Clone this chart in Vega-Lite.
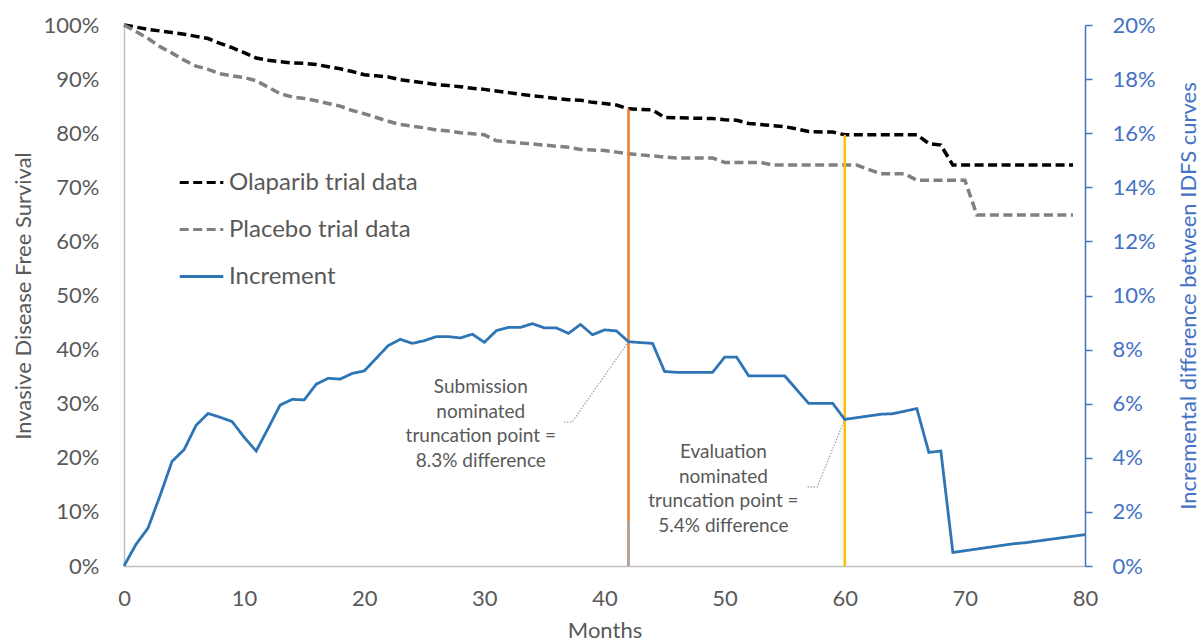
{
  "$schema": "https://vega.github.io/schema/vega-lite/v6.json",
  "autosize": "none",
  "width": 961,
  "height": 541,
  "padding": {"left": 124, "top": 25, "right": 119, "bottom": 77},
  "config": {
    "font": "Lato",
    "view": {"stroke": null},
    "axis": {"grid": false, "labelColor": "#595959", "titleColor": "#595959", "titleFontWeight": "normal", "labelFontSize": 22, "titleFontSize": 22, "domainColor": "#BFBFBF", "domainWidth": 1.5}
  },
  "datasets": {
    "curves": [
      {"month": 0, "value": 100, "series": "Olaparib trial data"},
      {"month": 1, "value": 99.6, "series": "Olaparib trial data"},
      {"month": 2, "value": 99.2, "series": "Olaparib trial data"},
      {"month": 3, "value": 98.9, "series": "Olaparib trial data"},
      {"month": 4, "value": 98.6, "series": "Olaparib trial data"},
      {"month": 5, "value": 98.3, "series": "Olaparib trial data"},
      {"month": 6, "value": 97.9, "series": "Olaparib trial data"},
      {"month": 7, "value": 97.5, "series": "Olaparib trial data"},
      {"month": 8, "value": 96.6, "series": "Olaparib trial data"},
      {"month": 9, "value": 95.8, "series": "Olaparib trial data"},
      {"month": 10, "value": 94.9, "series": "Olaparib trial data"},
      {"month": 11, "value": 93.9, "series": "Olaparib trial data"},
      {"month": 12, "value": 93.5, "series": "Olaparib trial data"},
      {"month": 13, "value": 93.2, "series": "Olaparib trial data"},
      {"month": 14, "value": 93.0, "series": "Olaparib trial data"},
      {"month": 15, "value": 92.9, "series": "Olaparib trial data"},
      {"month": 16, "value": 92.7, "series": "Olaparib trial data"},
      {"month": 17, "value": 92.3, "series": "Olaparib trial data"},
      {"month": 18, "value": 91.9, "series": "Olaparib trial data"},
      {"month": 19, "value": 91.4, "series": "Olaparib trial data"},
      {"month": 20, "value": 90.8, "series": "Olaparib trial data"},
      {"month": 21, "value": 90.6, "series": "Olaparib trial data"},
      {"month": 22, "value": 90.4, "series": "Olaparib trial data"},
      {"month": 23, "value": 89.9, "series": "Olaparib trial data"},
      {"month": 24, "value": 89.6, "series": "Olaparib trial data"},
      {"month": 25, "value": 89.3, "series": "Olaparib trial data"},
      {"month": 26, "value": 89.0, "series": "Olaparib trial data"},
      {"month": 27, "value": 88.8, "series": "Olaparib trial data"},
      {"month": 28, "value": 88.6, "series": "Olaparib trial data"},
      {"month": 29, "value": 88.3, "series": "Olaparib trial data"},
      {"month": 30, "value": 88.1, "series": "Olaparib trial data"},
      {"month": 31, "value": 87.8, "series": "Olaparib trial data"},
      {"month": 32, "value": 87.5, "series": "Olaparib trial data"},
      {"month": 33, "value": 87.2, "series": "Olaparib trial data"},
      {"month": 34, "value": 86.9, "series": "Olaparib trial data"},
      {"month": 35, "value": 86.7, "series": "Olaparib trial data"},
      {"month": 36, "value": 86.4, "series": "Olaparib trial data"},
      {"month": 37, "value": 86.2, "series": "Olaparib trial data"},
      {"month": 38, "value": 86.1, "series": "Olaparib trial data"},
      {"month": 39, "value": 85.7, "series": "Olaparib trial data"},
      {"month": 40, "value": 85.5, "series": "Olaparib trial data"},
      {"month": 41, "value": 85.2, "series": "Olaparib trial data"},
      {"month": 42, "value": 84.5, "series": "Olaparib trial data"},
      {"month": 43, "value": 84.4, "series": "Olaparib trial data"},
      {"month": 44, "value": 84.3, "series": "Olaparib trial data"},
      {"month": 45, "value": 82.9, "series": "Olaparib trial data"},
      {"month": 47, "value": 82.8, "series": "Olaparib trial data"},
      {"month": 49, "value": 82.7, "series": "Olaparib trial data"},
      {"month": 50, "value": 82.5, "series": "Olaparib trial data"},
      {"month": 51, "value": 82.4, "series": "Olaparib trial data"},
      {"month": 52, "value": 81.8, "series": "Olaparib trial data"},
      {"month": 53, "value": 81.6, "series": "Olaparib trial data"},
      {"month": 54, "value": 81.4, "series": "Olaparib trial data"},
      {"month": 55, "value": 81.2, "series": "Olaparib trial data"},
      {"month": 56, "value": 80.8, "series": "Olaparib trial data"},
      {"month": 57, "value": 80.3, "series": "Olaparib trial data"},
      {"month": 59, "value": 80.2, "series": "Olaparib trial data"},
      {"month": 60, "value": 79.7, "series": "Olaparib trial data"},
      {"month": 66, "value": 79.7, "series": "Olaparib trial data"},
      {"month": 67, "value": 78.1, "series": "Olaparib trial data"},
      {"month": 68, "value": 77.8, "series": "Olaparib trial data"},
      {"month": 69, "value": 74.1, "series": "Olaparib trial data"},
      {"month": 79, "value": 74.1, "series": "Olaparib trial data"},
      {"month": 0, "value": 100, "series": "Placebo trial data"},
      {"month": 1, "value": 98.8, "series": "Placebo trial data"},
      {"month": 2, "value": 97.5, "series": "Placebo trial data"},
      {"month": 3, "value": 96.0, "series": "Placebo trial data"},
      {"month": 4, "value": 94.8, "series": "Placebo trial data"},
      {"month": 5, "value": 93.5, "series": "Placebo trial data"},
      {"month": 6, "value": 92.4, "series": "Placebo trial data"},
      {"month": 7, "value": 91.8, "series": "Placebo trial data"},
      {"month": 8, "value": 91.0, "series": "Placebo trial data"},
      {"month": 9, "value": 90.6, "series": "Placebo trial data"},
      {"month": 10, "value": 90.3, "series": "Placebo trial data"},
      {"month": 11, "value": 89.7, "series": "Placebo trial data"},
      {"month": 12, "value": 88.5, "series": "Placebo trial data"},
      {"month": 13, "value": 87.3, "series": "Placebo trial data"},
      {"month": 14, "value": 86.7, "series": "Placebo trial data"},
      {"month": 15, "value": 86.4, "series": "Placebo trial data"},
      {"month": 16, "value": 86.0, "series": "Placebo trial data"},
      {"month": 17, "value": 85.5, "series": "Placebo trial data"},
      {"month": 18, "value": 85.0, "series": "Placebo trial data"},
      {"month": 19, "value": 84.2, "series": "Placebo trial data"},
      {"month": 20, "value": 83.6, "series": "Placebo trial data"},
      {"month": 21, "value": 82.9, "series": "Placebo trial data"},
      {"month": 22, "value": 82.2, "series": "Placebo trial data"},
      {"month": 23, "value": 81.6, "series": "Placebo trial data"},
      {"month": 24, "value": 81.3, "series": "Placebo trial data"},
      {"month": 25, "value": 81.0, "series": "Placebo trial data"},
      {"month": 26, "value": 80.6, "series": "Placebo trial data"},
      {"month": 27, "value": 80.4, "series": "Placebo trial data"},
      {"month": 28, "value": 80.1, "series": "Placebo trial data"},
      {"month": 29, "value": 79.9, "series": "Placebo trial data"},
      {"month": 30, "value": 79.7, "series": "Placebo trial data"},
      {"month": 31, "value": 78.6, "series": "Placebo trial data"},
      {"month": 32, "value": 78.4, "series": "Placebo trial data"},
      {"month": 33, "value": 78.2, "series": "Placebo trial data"},
      {"month": 34, "value": 78.0, "series": "Placebo trial data"},
      {"month": 35, "value": 77.8, "series": "Placebo trial data"},
      {"month": 36, "value": 77.6, "series": "Placebo trial data"},
      {"month": 37, "value": 77.4, "series": "Placebo trial data"},
      {"month": 38, "value": 77.0, "series": "Placebo trial data"},
      {"month": 39, "value": 76.9, "series": "Placebo trial data"},
      {"month": 40, "value": 76.8, "series": "Placebo trial data"},
      {"month": 41, "value": 76.5, "series": "Placebo trial data"},
      {"month": 42, "value": 76.2, "series": "Placebo trial data"},
      {"month": 43, "value": 76.0, "series": "Placebo trial data"},
      {"month": 44, "value": 75.8, "series": "Placebo trial data"},
      {"month": 45, "value": 75.6, "series": "Placebo trial data"},
      {"month": 46, "value": 75.4, "series": "Placebo trial data"},
      {"month": 49, "value": 75.4, "series": "Placebo trial data"},
      {"month": 50, "value": 74.6, "series": "Placebo trial data"},
      {"month": 53, "value": 74.6, "series": "Placebo trial data"},
      {"month": 54, "value": 74.1, "series": "Placebo trial data"},
      {"month": 61, "value": 74.1, "series": "Placebo trial data"},
      {"month": 63, "value": 72.5, "series": "Placebo trial data"},
      {"month": 65, "value": 72.5, "series": "Placebo trial data"},
      {"month": 66, "value": 71.3, "series": "Placebo trial data"},
      {"month": 70, "value": 71.3, "series": "Placebo trial data"},
      {"month": 71, "value": 64.9, "series": "Placebo trial data"},
      {"month": 79, "value": 64.9, "series": "Placebo trial data"},
      {"month": 0, "value": 0, "series": "Increment"},
      {"month": 1, "value": 0.8, "series": "Increment"},
      {"month": 2, "value": 1.4, "series": "Increment"},
      {"month": 3, "value": 2.6, "series": "Increment"},
      {"month": 4, "value": 3.87, "series": "Increment"},
      {"month": 5, "value": 4.3, "series": "Increment"},
      {"month": 6, "value": 5.2, "series": "Increment"},
      {"month": 7, "value": 5.64, "series": "Increment"},
      {"month": 8, "value": 5.5, "series": "Increment"},
      {"month": 9, "value": 5.34, "series": "Increment"},
      {"month": 10, "value": 4.76, "series": "Increment"},
      {"month": 11, "value": 4.25, "series": "Increment"},
      {"month": 12, "value": 5.09, "series": "Increment"},
      {"month": 13, "value": 5.95, "series": "Increment"},
      {"month": 14, "value": 6.16, "series": "Increment"},
      {"month": 15, "value": 6.14, "series": "Increment"},
      {"month": 16, "value": 6.72, "series": "Increment"},
      {"month": 17, "value": 6.94, "series": "Increment"},
      {"month": 18, "value": 6.91, "series": "Increment"},
      {"month": 19, "value": 7.12, "series": "Increment"},
      {"month": 20, "value": 7.21, "series": "Increment"},
      {"month": 21, "value": 7.68, "series": "Increment"},
      {"month": 22, "value": 8.15, "series": "Increment"},
      {"month": 23, "value": 8.38, "series": "Increment"},
      {"month": 24, "value": 8.23, "series": "Increment"},
      {"month": 25, "value": 8.33, "series": "Increment"},
      {"month": 26, "value": 8.48, "series": "Increment"},
      {"month": 27, "value": 8.48, "series": "Increment"},
      {"month": 28, "value": 8.43, "series": "Increment"},
      {"month": 29, "value": 8.57, "series": "Increment"},
      {"month": 30, "value": 8.27, "series": "Increment"},
      {"month": 31, "value": 8.7, "series": "Increment"},
      {"month": 32, "value": 8.82, "series": "Increment"},
      {"month": 33, "value": 8.82, "series": "Increment"},
      {"month": 34, "value": 8.96, "series": "Increment"},
      {"month": 35, "value": 8.8, "series": "Increment"},
      {"month": 36, "value": 8.8, "series": "Increment"},
      {"month": 37, "value": 8.6, "series": "Increment"},
      {"month": 38, "value": 8.93, "series": "Increment"},
      {"month": 39, "value": 8.55, "series": "Increment"},
      {"month": 40, "value": 8.73, "series": "Increment"},
      {"month": 41, "value": 8.69, "series": "Increment"},
      {"month": 42, "value": 8.29, "series": "Increment"},
      {"month": 44, "value": 8.23, "series": "Increment"},
      {"month": 45, "value": 7.19, "series": "Increment"},
      {"month": 46, "value": 7.16, "series": "Increment"},
      {"month": 49, "value": 7.16, "series": "Increment"},
      {"month": 50, "value": 7.72, "series": "Increment"},
      {"month": 51, "value": 7.72, "series": "Increment"},
      {"month": 52, "value": 7.03, "series": "Increment"},
      {"month": 55, "value": 7.03, "series": "Increment"},
      {"month": 57, "value": 6.01, "series": "Increment"},
      {"month": 59, "value": 6.01, "series": "Increment"},
      {"month": 60, "value": 5.42, "series": "Increment"},
      {"month": 63, "value": 5.61, "series": "Increment"},
      {"month": 64, "value": 5.63, "series": "Increment"},
      {"month": 66, "value": 5.82, "series": "Increment"},
      {"month": 67, "value": 4.2, "series": "Increment"},
      {"month": 68, "value": 4.25, "series": "Increment"},
      {"month": 69, "value": 0.5, "series": "Increment"},
      {"month": 74, "value": 0.82, "series": "Increment"},
      {"month": 75, "value": 0.86, "series": "Increment"},
      {"month": 80, "value": 1.16, "series": "Increment"}
    ],
    "leaders": [
      {"group": "Submission", "seq": 1, "month": 42, "value": 41.5},
      {"group": "Submission", "seq": 2, "month": 37.3, "value": 26.6},
      {"group": "Submission", "seq": 3, "month": 36.6, "value": 26.6},
      {"group": "Evaluation", "seq": 1, "month": 60, "value": 27.1},
      {"group": "Evaluation", "seq": 2, "month": 57.7, "value": 14.6},
      {"group": "Evaluation", "seq": 3, "month": 56.9, "value": 14.6}
    ],
    "notes": [
      {"month": 29.7, "value": 33.1, "label": "Submission\nnominated\ntruncation point =\n8.3% difference"},
      {"month": 49.9, "value": 21.1, "label": "Evaluation\nnominated\ntruncation point =\n5.4% difference"}
    ]
  },
  "layer": [
    {
      "layer": [
        {
          "data": {"name": "curves"},
          "transform": [{"filter": "datum.series !== 'Increment'"}],
          "mark": {"type": "line", "strokeWidth": 3.5, "strokeCap": "butt"},
          "encoding": {
            "x": {"field": "month", "type": "quantitative", "scale": {"domain": [0, 80], "nice": false},
                  "axis": {"values": [0, 10, 20, 30, 40, 50, 60, 70, 80], "ticks": false, "labelFlush": false, "labelPadding": 22, "title": "Months", "titlePadding": 11}},
            "y": {"field": "value", "type": "quantitative", "scale": {"domain": [0, 100], "nice": false},
                  "axis": {"values": [0, 10, 20, 30, 40, 50, 60, 70, 80, 90, 100], "labelExpr": "datum.value + '%'", "ticks": false, "labelPadding": 25, "title": "Invasive Disease Free Survival", "titlePadding": 8}},
            "color": {"field": "series", "type": "nominal",
                      "scale": {"domain": ["Olaparib trial data", "Placebo trial data", "Increment"], "range": ["#000000", "#808080", "#2E75B6"]},
                      "legend": {"orient": "none", "legendX": 54, "legendY": 134, "title": null, "symbolType": "stroke", "symbolSize": 1900, "symbolStrokeWidth": 3.2, "labelFontSize": 24, "labelColor": "#595959", "labelOffset": 4, "labelLimit": 0, "rowPadding": 11}},
            "strokeDash": {"field": "series", "type": "nominal",
                      "scale": {"domain": ["Olaparib trial data", "Placebo trial data", "Increment"], "range": [[9, 4.5], [9, 4.5], [1, 0]]},
                      "legend": {"orient": "none", "legendX": 54, "legendY": 134, "title": null, "symbolType": "stroke", "symbolSize": 1900, "symbolStrokeWidth": 3.2, "labelFontSize": 24, "labelColor": "#595959", "labelOffset": 4, "labelLimit": 0, "rowPadding": 11}}
          }
        },
        {
          "data": {"values": [{"month": 42, "bottom": 0, "top": 84.5}]},
          "mark": {"type": "rule", "color": "#ED7D31", "strokeWidth": 2.5},
          "encoding": {
            "x": {"field": "month", "type": "quantitative"},
            "y": {"field": "bottom", "type": "quantitative"},
            "y2": {"field": "top"}
          }
        },
        {
          "data": {"values": [{"month": 42, "bottom": 0, "top": 8.3}]},
          "mark": {"type": "rule", "color": "#A6A6A6", "strokeWidth": 2.5},
          "encoding": {
            "x": {"field": "month", "type": "quantitative"},
            "y": {"field": "bottom", "type": "quantitative"},
            "y2": {"field": "top"}
          }
        },
        {
          "data": {"values": [{"month": 60, "bottom": 0, "top": 79.7}]},
          "mark": {"type": "rule", "color": "#FFC000", "strokeWidth": 2.5},
          "encoding": {
            "x": {"field": "month", "type": "quantitative"},
            "y": {"field": "bottom", "type": "quantitative"},
            "y2": {"field": "top"}
          }
        },
        {
          "data": {"name": "leaders"},
          "mark": {"type": "line", "color": "#A6A6A6", "strokeWidth": 1.3, "strokeDash": [1.5, 1.5]},
          "encoding": {
            "x": {"field": "month", "type": "quantitative"},
            "y": {"field": "value", "type": "quantitative"},
            "detail": {"field": "group"},
            "order": {"field": "seq"}
          }
        },
        {
          "data": {"name": "notes"},
          "mark": {"type": "text", "align": "center", "baseline": "middle", "lineBreak": "\n", "lineHeight": 24.7, "fontSize": 19, "color": "#595959"},
          "encoding": {
            "x": {"field": "month", "type": "quantitative"},
            "y": {"field": "value", "type": "quantitative"},
            "text": {"field": "label"}
          }
        }
      ]
    },
    {
      "data": {"name": "curves"},
      "transform": [{"filter": "datum.series === 'Increment'"}],
      "mark": {"type": "line", "strokeWidth": 2.8},
      "encoding": {
        "x": {"field": "month", "type": "quantitative"},
        "y": {"field": "value", "type": "quantitative", "scale": {"domain": [0, 20], "nice": false},
              "axis": {"orient": "right", "values": [0, 2, 4, 6, 8, 10, 12, 14, 16, 18, 20], "labelExpr": "datum.value + '%'", "domainColor": "#4472C4", "tickColor": "#4472C4", "tickSize": 7, "tickWidth": 1.5, "labelColor": "#4472C4", "labelPadding": 20, "title": "Incremental difference between IDFS curves", "titleColor": "#4472C4", "titleAngle": 270, "titlePadding": 45}},
        "color": {"field": "series", "type": "nominal"},
        "strokeDash": {"field": "series", "type": "nominal"}
      }
    }
  ],
  "resolve": {"scale": {"y": "independent"}}
}
